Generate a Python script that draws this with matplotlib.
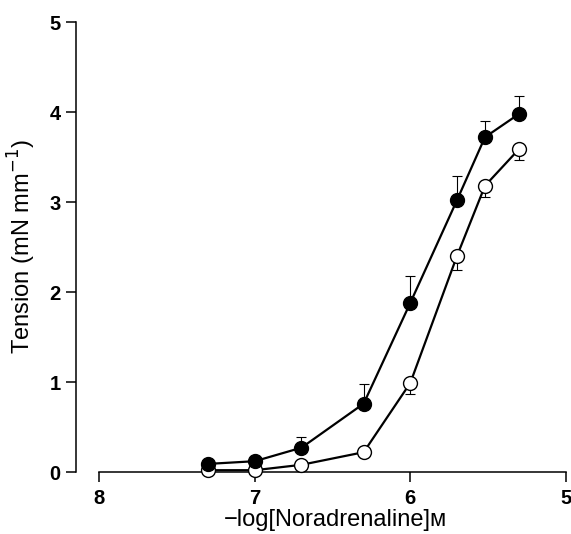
import numpy as np
import matplotlib
matplotlib.use("Agg")
from matplotlib import pyplot as plt

# -log[NA] (M) and tension (mN/mm)
log_conc = [7.30, 7.00, 6.70, 6.30, 6.00, 5.70, 5.52, 5.30]

filled_mean = [0.09, 0.12, 0.27, 0.76, 1.88, 3.02, 3.72, 3.98]
filled_err = [0.00, 0.06, 0.12, 0.22, 0.30, 0.27, 0.18, 0.20]

open_mean = [0.02, 0.02, 0.08, 0.22, 0.99, 2.40, 3.18, 3.59]
open_err = [0.00, 0.00, 0.00, 0.00, 0.12, 0.16, 0.12, 0.12]

x_ticks = [8, 7, 6, 5]
y_ticks = [0, 1, 2, 3, 4, 5]

plt.rcParams["font.family"] = ["Liberation Sans", "DejaVu Sans"]

fig = plt.figure(figsize=(5.71, 5.34), dpi=100)
ax = fig.add_axes([76 / 571, 62 / 534, 494.5 / 571, 450 / 534])

# open circles: lower error bars only
ax.errorbar(log_conc, open_mean,
            yerr=[open_err, np.zeros(len(open_err))],
            fmt="none", ecolor="black", elinewidth=0.8, capsize=3.5,
            capthick=0.8, clip_on=False, zorder=2)
ax.plot(log_conc, open_mean, color="black", lw=1.6, marker="o",
        markersize=10, markerfacecolor="white", markeredgecolor="black",
        markeredgewidth=1.0, clip_on=False, zorder=3)

# filled circles: upper error bars only
ax.errorbar(log_conc, filled_mean,
            yerr=[np.zeros(len(filled_err)), filled_err],
            fmt="none", ecolor="black", elinewidth=0.8, capsize=3.5,
            capthick=0.8, clip_on=False, zorder=4)
ax.plot(log_conc, filled_mean, color="black", lw=1.6, marker="o",
        markersize=10, markerfacecolor="black", markeredgecolor="black",
        clip_on=False, zorder=5)

ax.set_xlim(8.15, 4.97)
ax.set_ylim(0, 5)
ax.set_xticks(x_ticks)
ax.set_yticks(y_ticks)

for side in ["top", "right"]:
    ax.spines[side].set_visible(False)
ax.spines["left"].set_bounds(0, 5)
ax.spines["bottom"].set_bounds(8, 5)
for side in ["left", "bottom"]:
    ax.spines[side].set_linewidth(1.1)

ax.tick_params(direction="out", length=7, width=1.1, labelsize=14.5)
ax.tick_params(axis="x", pad=5)
ax.tick_params(axis="y", pad=4)
for lab in ax.get_xticklabels() + ax.get_yticklabels():
    lab.set_fontweight("bold")

ax.set_xlabel("\u2212log[Noradrenaline]\u1d0d", fontsize=17)
ax.xaxis.set_label_coords(0.524, -0.082)
ax.set_ylabel("Tension (mN mm$^{-1}$)", fontsize=17, labelpad=8)

fig.savefig("out.png", dpi=100)
